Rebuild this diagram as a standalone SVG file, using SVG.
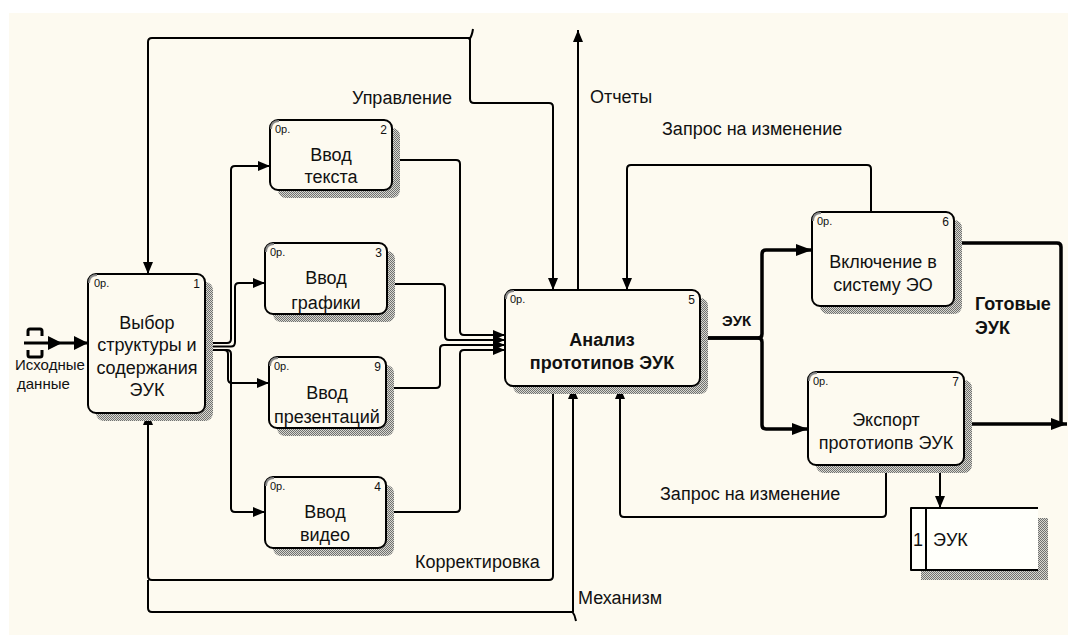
<svg xmlns="http://www.w3.org/2000/svg" width="1068" height="635" viewBox="0 0 1068 635">
<defs>
<pattern id="hatch" width="2" height="2" patternUnits="userSpaceOnUse">
<rect width="2" height="2" fill="#d8d8d0"/>
<rect x="0" y="0" width="1" height="1" fill="#707070"/>
<rect x="1" y="1" width="1" height="1" fill="#707070"/>
</pattern>
<marker id="ar" markerUnits="userSpaceOnUse" viewBox="0 0 12 10" refX="12" refY="5" markerWidth="12" markerHeight="10" orient="auto">
<path d="M0,0 L12,5 L0,10 Z" fill="#000"/>
</marker>
<marker id="arb" markerUnits="userSpaceOnUse" viewBox="0 0 16 12" refX="16" refY="6" markerWidth="16" markerHeight="12" orient="auto">
<path d="M0,0 L16,6 L0,12 Z" fill="#000"/>
</marker>
</defs>
<style>
.bx{fill:#fdfaf0;stroke:#000;stroke-width:2}
.sh{fill:url(#hatch)}
.cn{fill:none;stroke:#000;stroke-width:2;stroke-linejoin:round}
.th{fill:none;stroke:#000;stroke-width:3.5;stroke-linejoin:round}
.t{font-family:"Liberation Sans",Arial,sans-serif;font-size:18px;fill:#111;text-anchor:middle}
.tb{font-family:"Liberation Sans",Arial,sans-serif;font-size:18px;font-weight:bold;fill:#111;text-anchor:middle}
.l{font-family:"Liberation Sans",Arial,sans-serif;font-size:18px;fill:#111}
.lb{font-family:"Liberation Sans",Arial,sans-serif;font-size:18px;font-weight:bold;fill:#111}
.s{font-family:"Liberation Sans",Arial,sans-serif;font-size:11px;fill:#111}
.n{font-family:"Liberation Sans",Arial,sans-serif;font-size:12px;fill:#111;text-anchor:end}
.cm{fill:none;stroke:#888;stroke-width:2}
</style>
<rect x="0" y="0" width="1068" height="635" fill="#ffffff"/>
<rect x="9" y="13" width="1059" height="622" fill="#fdfaf0"/>

<g id="connectors">
<!-- input -->
<path d="M24,343 H88" class="cn" style="stroke-width:3"/>
<path d="M48,336 L62,343 L48,350 Z"/>
<path d="M74,336 L88,343 L74,350 Z"/>
<path d="M28,336 V331 Q28,329 30,329 H40 Q42,329 42,331 V336" class="cn" style="stroke-width:3"/>
<path d="M28,350 V355 Q28,357 30,357 H40 Q42,357 42,355 V350" class="cn" style="stroke-width:3"/>
<!-- box1 fan-out -->
<path d="M205,343 H227 Q231,343 231,339 V170 Q231,166 235,166 H270" class="cn" marker-end="url(#ar)"/>
<path d="M205,346.5 H231 Q235,346.5 235,342 V287 Q235,283 239,283 H265" class="cn" marker-end="url(#ar)"/>
<path d="M205,350 H224 Q228,350 228,354 V379 Q228,383 232,383 H269" class="cn" marker-end="url(#ar)"/>
<path d="M205,350 H227 Q231,350 231,354 V508 Q231,512 235,512 H265" class="cn" marker-end="url(#ar)"/>
<!-- into box 5 -->
<path d="M392,160 H456 Q460,160 460,164 V331 Q460,335 464,335 H505" class="cn" marker-end="url(#ar)"/>
<path d="M387,284 H441 Q445,284 445,288 V336 Q445,340 449,340 H505" class="cn" marker-end="url(#ar)"/>
<path d="M386,388 H436 Q440,388 440,384 V349 Q440,345 444,345 H505" class="cn" marker-end="url(#ar)"/>
<path d="M386,512 H456 Q460,512 460,508 V354 Q460,350 464,350 H505" class="cn" marker-end="url(#ar)"/>
<!-- Управление -->
<path d="M470,38 H152 Q148,38 148,42 V274" class="cn" marker-end="url(#ar)"/>
<path d="M470,38 V99 Q470,103 474,103 H549 Q553,103 553,107 V290" class="cn" marker-end="url(#ar)"/>
<path d="M469,40 Q472,36 473,29" class="cn"/>
<!-- Отчеты -->
<path d="M578,290 V30" class="cn" marker-end="url(#ar)"/>
<!-- Запрос upper -->
<path d="M871,212 V169 Q871,165 867,165 H631 Q627,165 627,169 V290" class="cn" marker-end="url(#ar)"/>
<!-- ЭУК from box 5 -->
<path d="M700,338 H758 Q762,338 762,334 V254 Q762,250 766,250 H812" class="th" marker-end="url(#arb)"/>
<path d="M700,338 H758 Q762,338 762,342 V425 Q762,429 766,429 H808" class="th" marker-end="url(#arb)"/>
<!-- Готовые ЭУК -->
<path d="M954,243 H1057 Q1061,243 1061,247 V424" class="th"/>
<path d="M964,424 H1067" class="th" marker-end="url(#arb)"/>
<!-- to store -->
<path d="M940,465 V508" class="cn" marker-end="url(#ar)"/>
<!-- Запрос lower -->
<path d="M886,465 V513 Q886,517 882,517 H624 Q620,517 620,513 V387" class="cn" marker-end="url(#ar)"/>
<!-- Корректировка -->
<path d="M553,386 V576 Q553,580 549,580 H152 Q148,580 148,576 V413" class="cn" marker-end="url(#ar)"/>
<!-- Механизм -->
<path d="M573,612 V387" class="cn" marker-end="url(#ar)"/>
<path d="M573,612 H152 Q148,612 148,608 V580" class="cn"/>
<path d="M572,611 Q575,615 576,621" class="cn"/>
</g>

<g id="labels">
<text class="l" x="352" y="104">Управление</text>
<text class="l" x="590" y="103">Отчеты</text>
<text class="l" x="662" y="135">Запрос на изменение</text>
<text class="lb" x="722" y="326" style="font-size:15px">ЭУК</text>
<text class="lb" x="975" y="310">Готовые</text>
<text class="lb" x="975" y="334">ЭУК</text>
<text class="l" x="660" y="500">Запрос на изменение</text>
<text class="l" x="415" y="568">Корректировка</text>
<text class="l" x="578" y="604">Механизм</text>
<text class="l" x="15" y="370" style="font-size:15px">Исходные</text>
<text class="l" x="17" y="389" style="font-size:15px">данные</text>
</g>

<g id="node1">
<rect class="sh" x="96" y="282" width="117" height="139" rx="8"/>
<rect class="bx" x="88" y="274" width="117" height="139" rx="8"/>
<path class="cm" d="M89,283 Q89,275 97,275"/>
<text class="s" x="94" y="287">0р.</text><text class="n" x="200" y="288">1</text>
<text class="t" x="147" y="329">Выбор</text>
<text class="t" x="147" y="351">структуры и</text>
<text class="t" x="147" y="374">содержания</text>
<text class="t" x="147" y="396">ЭУК</text>
</g>

<g id="node2">
<rect class="sh" x="278" y="128" width="122" height="70" rx="8"/>
<rect class="bx" x="270" y="120" width="122" height="70" rx="8"/>
<path class="cm" d="M271,129 Q271,121 279,121"/>
<text class="s" x="275" y="133">0р.</text><text class="n" x="387" y="134">2</text>
<text class="t" x="331" y="161">Ввод</text>
<text class="t" x="331" y="183">текста</text>
</g>

<g id="node3">
<rect class="sh" x="273" y="251" width="122" height="71" rx="8"/>
<rect class="bx" x="265" y="243" width="122" height="71" rx="8"/>
<path class="cm" d="M266,252 Q266,244 274,244"/>
<text class="s" x="270" y="256">0р.</text><text class="n" x="382" y="257">3</text>
<text class="t" x="326" y="284">Ввод</text>
<text class="t" x="326" y="309">графики</text>
</g>

<g id="node9">
<rect class="sh" x="277" y="365" width="117" height="71" rx="8"/>
<rect class="bx" x="269" y="357" width="117" height="71" rx="8"/>
<path class="cm" d="M270,366 Q270,358 278,358"/>
<text class="s" x="274" y="370">0р.</text><text class="n" x="381" y="371">9</text>
<text class="t" x="327" y="399">Ввод</text>
<text class="t" x="327" y="423">презентаций</text>
</g>

<g id="node4">
<rect class="sh" x="273" y="485" width="121" height="71" rx="8"/>
<rect class="bx" x="265" y="477" width="121" height="71" rx="8"/>
<path class="cm" d="M266,486 Q266,478 274,478"/>
<text class="s" x="270" y="490">0р.</text><text class="n" x="381" y="491">4</text>
<text class="t" x="325" y="518">Ввод</text>
<text class="t" x="325" y="541">видео</text>
</g>

<g id="node5">
<rect class="sh" x="513" y="298" width="195" height="96" rx="8"/>
<rect class="bx" x="505" y="290" width="195" height="96" rx="8"/>
<path class="cm" d="M506,299 Q506,291 514,291"/>
<text class="s" x="510" y="303">0р.</text><text class="n" x="695" y="304">5</text>
<text class="tb" x="602" y="346">Анализ</text>
<text class="tb" x="602" y="369">прототипов ЭУК</text>
</g>

<g id="node6">
<rect class="sh" x="820" y="220" width="142" height="94" rx="8"/>
<rect class="bx" x="812" y="212" width="142" height="94" rx="8"/>
<path class="cm" d="M813,221 Q813,213 821,213"/>
<text class="s" x="817" y="225">0р.</text><text class="n" x="949" y="226">6</text>
<text class="t" x="883" y="268">Включение в</text>
<text class="t" x="883" y="291">систему ЭО</text>
</g>

<g id="node7">
<rect class="sh" x="816" y="380" width="156" height="93" rx="8"/>
<rect class="bx" x="808" y="372" width="156" height="93" rx="8"/>
<path class="cm" d="M809,381 Q809,373 817,373"/>
<text class="s" x="813" y="385">0р.</text><text class="n" x="959" y="386">7</text>
<text class="t" x="886" y="426">Экспорт</text>
<text class="t" x="886" y="449">прототиопв ЭУК</text>
</g>

<g id="store1">
<rect class="sh" x="921" y="518" width="127" height="62"/>
<rect x="911" y="508" width="127" height="62" fill="#fffffa"/>
<path d="M1038,508 H911 V570 H1038 M926,508 V570" class="cn"/>
<text class="l" x="913" y="546">1</text>
<text class="l" x="933" y="546">ЭУК</text>
</g>
</svg>
